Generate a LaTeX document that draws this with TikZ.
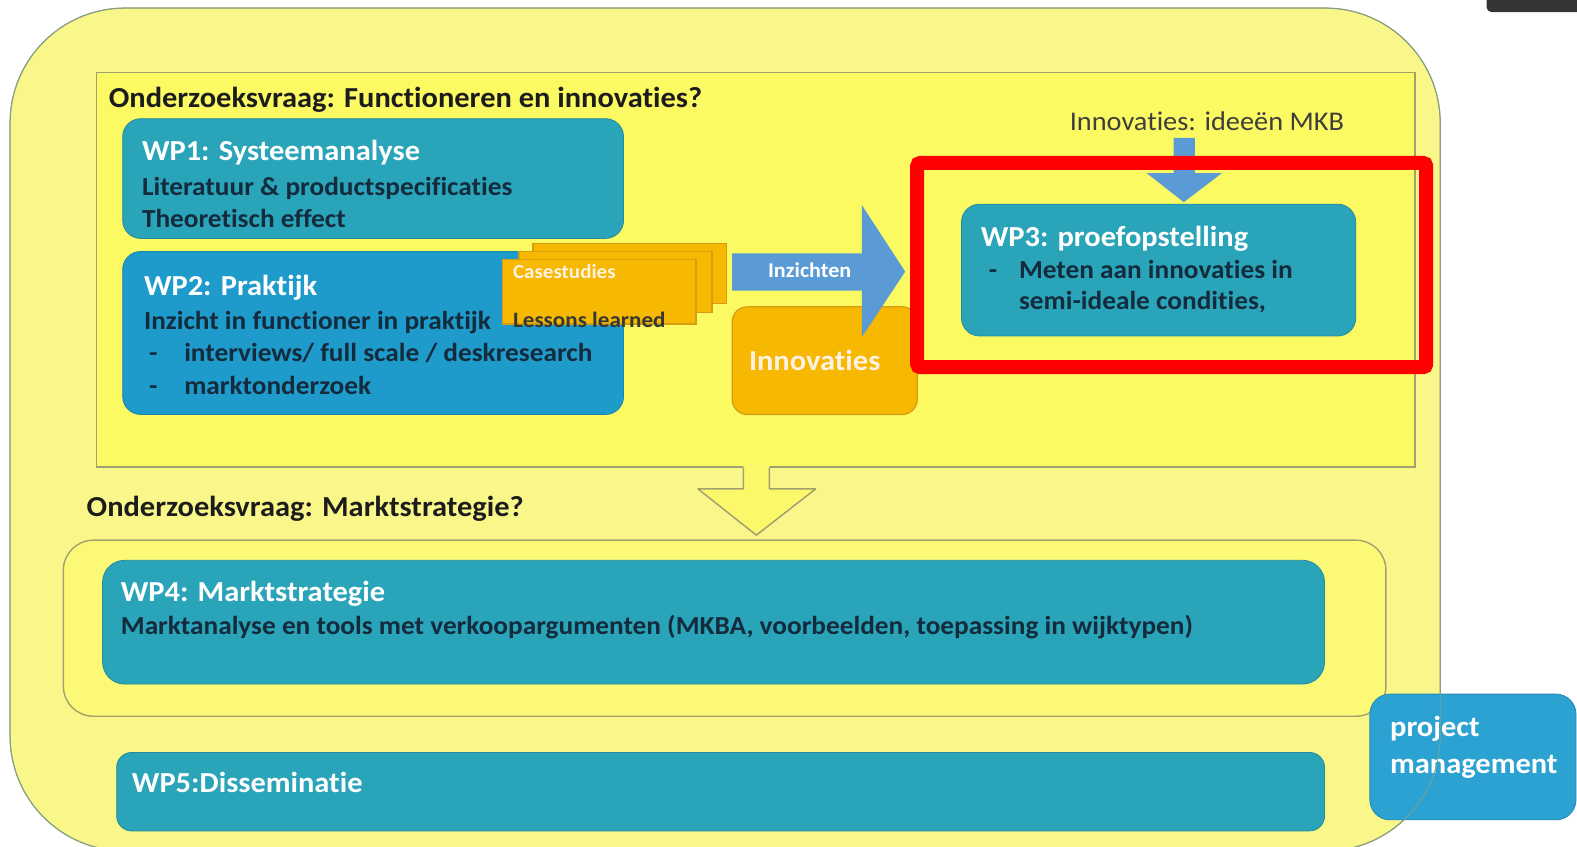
\documentclass[tikz,border=0pt]{standalone}
\usepackage{fontspec}
\setmainfont{Carlito}[FakeStretch=1.05, Ligatures=NoCommon]
\usetikzlibrary{fit,calc}
\definecolor{outerY}{HTML}{F9F68A}
\definecolor{innerY}{HTML}{FCFA62}
\definecolor{groupY}{HTML}{FBF975}
\definecolor{olive}{HTML}{A3A070}
\definecolor{tealbox}{HTML}{2AA4B9}
\definecolor{bluebox}{HTML}{1E9BCB}
\definecolor{pmblue}{HTML}{2CA2D2}
\definecolor{orangeC}{HTML}{F6B800}
\definecolor{orangeE}{HTML}{D49E10}
\definecolor{arrowB}{HTML}{5B9BD5}
\definecolor{navy}{HTML}{132B3C}
\definecolor{titleC}{HTML}{1C1C1C}
\definecolor{barC}{HTML}{353535}
\tikzset{
  wpbox/.style={rounded corners=18pt, fill=tealbox, draw=tealbox!85!black, line width=0.8pt, inner sep=0pt},
  orangebox/.style={fill=orangeC, draw=orangeE, line width=1.2pt, inner sep=0pt},
  wptitle/.style={anchor=base west, inner sep=0pt, text=white, font=\fontsize{29}{33}\selectfont\bfseries},
  wptext/.style={anchor=base west, inner sep=0pt, text=navy, font=\fontsize{26}{30}\selectfont\bfseries},
  qtitle/.style={anchor=base west, inner sep=0pt, text=titleC, font=\fontsize{29}{33}\selectfont\bfseries},
}
\begin{document}
\begin{tikzpicture}[x=1.00574pt,y=-1.00594pt]
\useasboundingbox (0,0) rectangle (1568,842);
% outer region
\node[fill=outerY, draw=olive, line width=1.2pt, rounded corners=115pt, inner sep=0pt, fit={(10,8) (1432,846)}] (outer) {};
% research question 1 frame
\node[fill=innerY, draw=olive, line width=1.6pt, inner sep=0pt, fit={(96,72) (1407,464)}] (rq1) {};
\node[qtitle] (rq1title) at (108,107) {Onderzoeksvraag: Functioneren en innovaties?};
% WP1
\node[wpbox, fit={(122,118) (620,237)}] (wp1) {};
\node[wptitle] (wp1t) at (141,160) {WP1: Systeemanalyse};
\node[wptext] (wp1a) at (141,194) {Literatuur \& productspecificaties};
\node[wptext] (wp1b) at (141,226) {Theoretisch effect};
% WP2
\node[wpbox, fill=bluebox, draw=bluebox!85!black, fit={(122,250) (620,412)}] (wp2) {};
\node[wptitle] (wp2t) at (143,294) {WP2: Praktijk};
\node[wptext] (wp2a) at (143,328) {Inzicht in functioner in praktijk};
\node[wptext] (wp2d1) at (148,359) {-};
\node[wptext] (wp2b) at (183,359) {interviews/ full scale / deskresearch};
\node[wptext] (wp2d2) at (148,392) {-};
\node[wptext] (wp2c) at (183,392) {marktonderzoek};
% stacked cards
\node[orangebox, fit={(530,242) (722,302)}] (card3) {};
\node[orangebox, fit={(516,250) (708,311)}] (card2) {};
\node[orangebox, fit={(500,258) (692,322)}] (card1) {};
\node[anchor=base west, inner sep=0pt, text=white!90!orange, font=\fontsize{20}{23}\selectfont\bfseries] (cases) at (510,277) {Casestudies};
\node[anchor=base west, inner sep=0pt, text=navy!85!orange, font=\fontsize{22}{25}\selectfont\bfseries] (lessons) at (510,326) {Lessons learned};
% Innovaties box
\node[orangebox, rounded corners=15pt, fit={(728,305) (912,412)}] (innov) {};
\node[inner sep=0pt, text=white!90!orange, font=\fontsize{29}{33}\selectfont\bfseries] (innovt) at (810,358) {Innovaties};
% Inzichten arrow
\coordinate (ia0) at (728,252);
\coordinate (ia1) at (857,252);
\coordinate (ia2) at (857,204);
\coordinate (itip) at (900,270);
\coordinate (ia3) at (857,335);
\coordinate (ia4) at (857,289);
\coordinate (ia5) at (728,289);
\fill[arrowB] (ia0) -- (ia1) -- (ia2) -- (itip) -- (ia3) -- (ia4) -- (ia5) -- cycle;
\node[inner sep=0pt, text=white, font=\fontsize{21}{24}\selectfont\bfseries] (inz) at (805,269) {Inzichten};
% WP3
\node[anchor=base, inner sep=0pt, text=titleC!85!white, font=\fontsize{27}{31}\selectfont] (mkb) at (1200,130) {Innovaties: ideeën MKB};
\node[wpbox, fit={(956,203) (1348,334)}] (wp3) {};
\coordinate (da0) at (1167,137);
\coordinate (da1) at (1188,137);
\coordinate (da2) at (1188,172);
\coordinate (da3) at (1215,172);
\coordinate (dtip) at (1177,201);
\coordinate (da4) at (1140,172);
\coordinate (da5) at (1167,172);
\fill[arrowB] (da0) -- (da1) -- (da2) -- (da3) -- (dtip) -- (da4) -- (da5) -- cycle;
\node[wptitle] (wp3t) at (975,245) {WP3: proefopstelling};
\node[wptext] (wp3d) at (983,277) {-};
\node[wptext] (wp3a) at (1013,277) {Meten aan innovaties in};
\node[wptext] (wp3b) at (1013,308) {semi-ideale condities,};
% red highlight
\node[draw=red, line width=14pt, rounded corners=3pt, inner sep=0pt, fit={(912,162) (1418,365)}] (focus) {};
% hollow down arrow
\coordinate (ha0) at (739,462);
\coordinate (ha1) at (739,486);
\coordinate (ha2) at (694,486);
\coordinate (htip) at (752,532);
\coordinate (ha3) at (811,486);
\coordinate (ha4) at (765,486);
\coordinate (ha5) at (765,462);
\fill[innerY!80!outerY] (ha0) -- (ha1) -- (ha2) -- (htip) -- (ha3) -- (ha4) -- (ha5) -- cycle;
\draw[olive, line width=1.5pt, line join=round] ($(ha0)+(0,3)$) -- (ha1) -- (ha2) -- (htip) -- (ha3) -- (ha4) -- ($(ha5)+(0,3)$);
% research question 2
\node[qtitle] (rq2title) at (86,513) {Onderzoeksvraag: Marktstrategie?};
\node[fill=groupY, draw=olive, line width=1.4pt, rounded corners=30pt, inner sep=0pt, fit={(63,537) (1378,712)}] (grp4) {};
\node[wpbox, rounded corners=22pt, fit={(102,557) (1317,680)}] (wp4) {};
\node[wptitle] (wp4t) at (120,598) {WP4: Marktstrategie};
\node[wptext] (wp4a) at (120,631) {Marktanalyse en tools met verkoopargumenten (MKBA, voorbeelden, toepassing in wijktypen)};
% WP5
\node[wpbox, rounded corners=15pt, fit={(116,748) (1317,826)}] (wp5) {};
\node[wptitle] (wp5t) at (131,788) {WP5:Disseminatie};
% project management
\node[wpbox, fill=pmblue, draw=pmblue!85!black, rounded corners=20pt, fit={(1362,690) (1567,815)}] (pm) {};
\node[wptitle] (pm1) at (1382,732) {project};
\node[wptitle] (pm2) at (1382,769) {management};
\node[draw=olive!70!pmblue, line width=0.8pt, rounded corners=115pt, inner sep=0pt, fit={(10,8) (1432,846)}] (outerline) {};
% top right bar
\node[fill=barC, rounded corners=5pt, inner sep=0pt, fit={(1478,-10) (1575,12)}] (bar) {};
\end{tikzpicture}
\end{document}
